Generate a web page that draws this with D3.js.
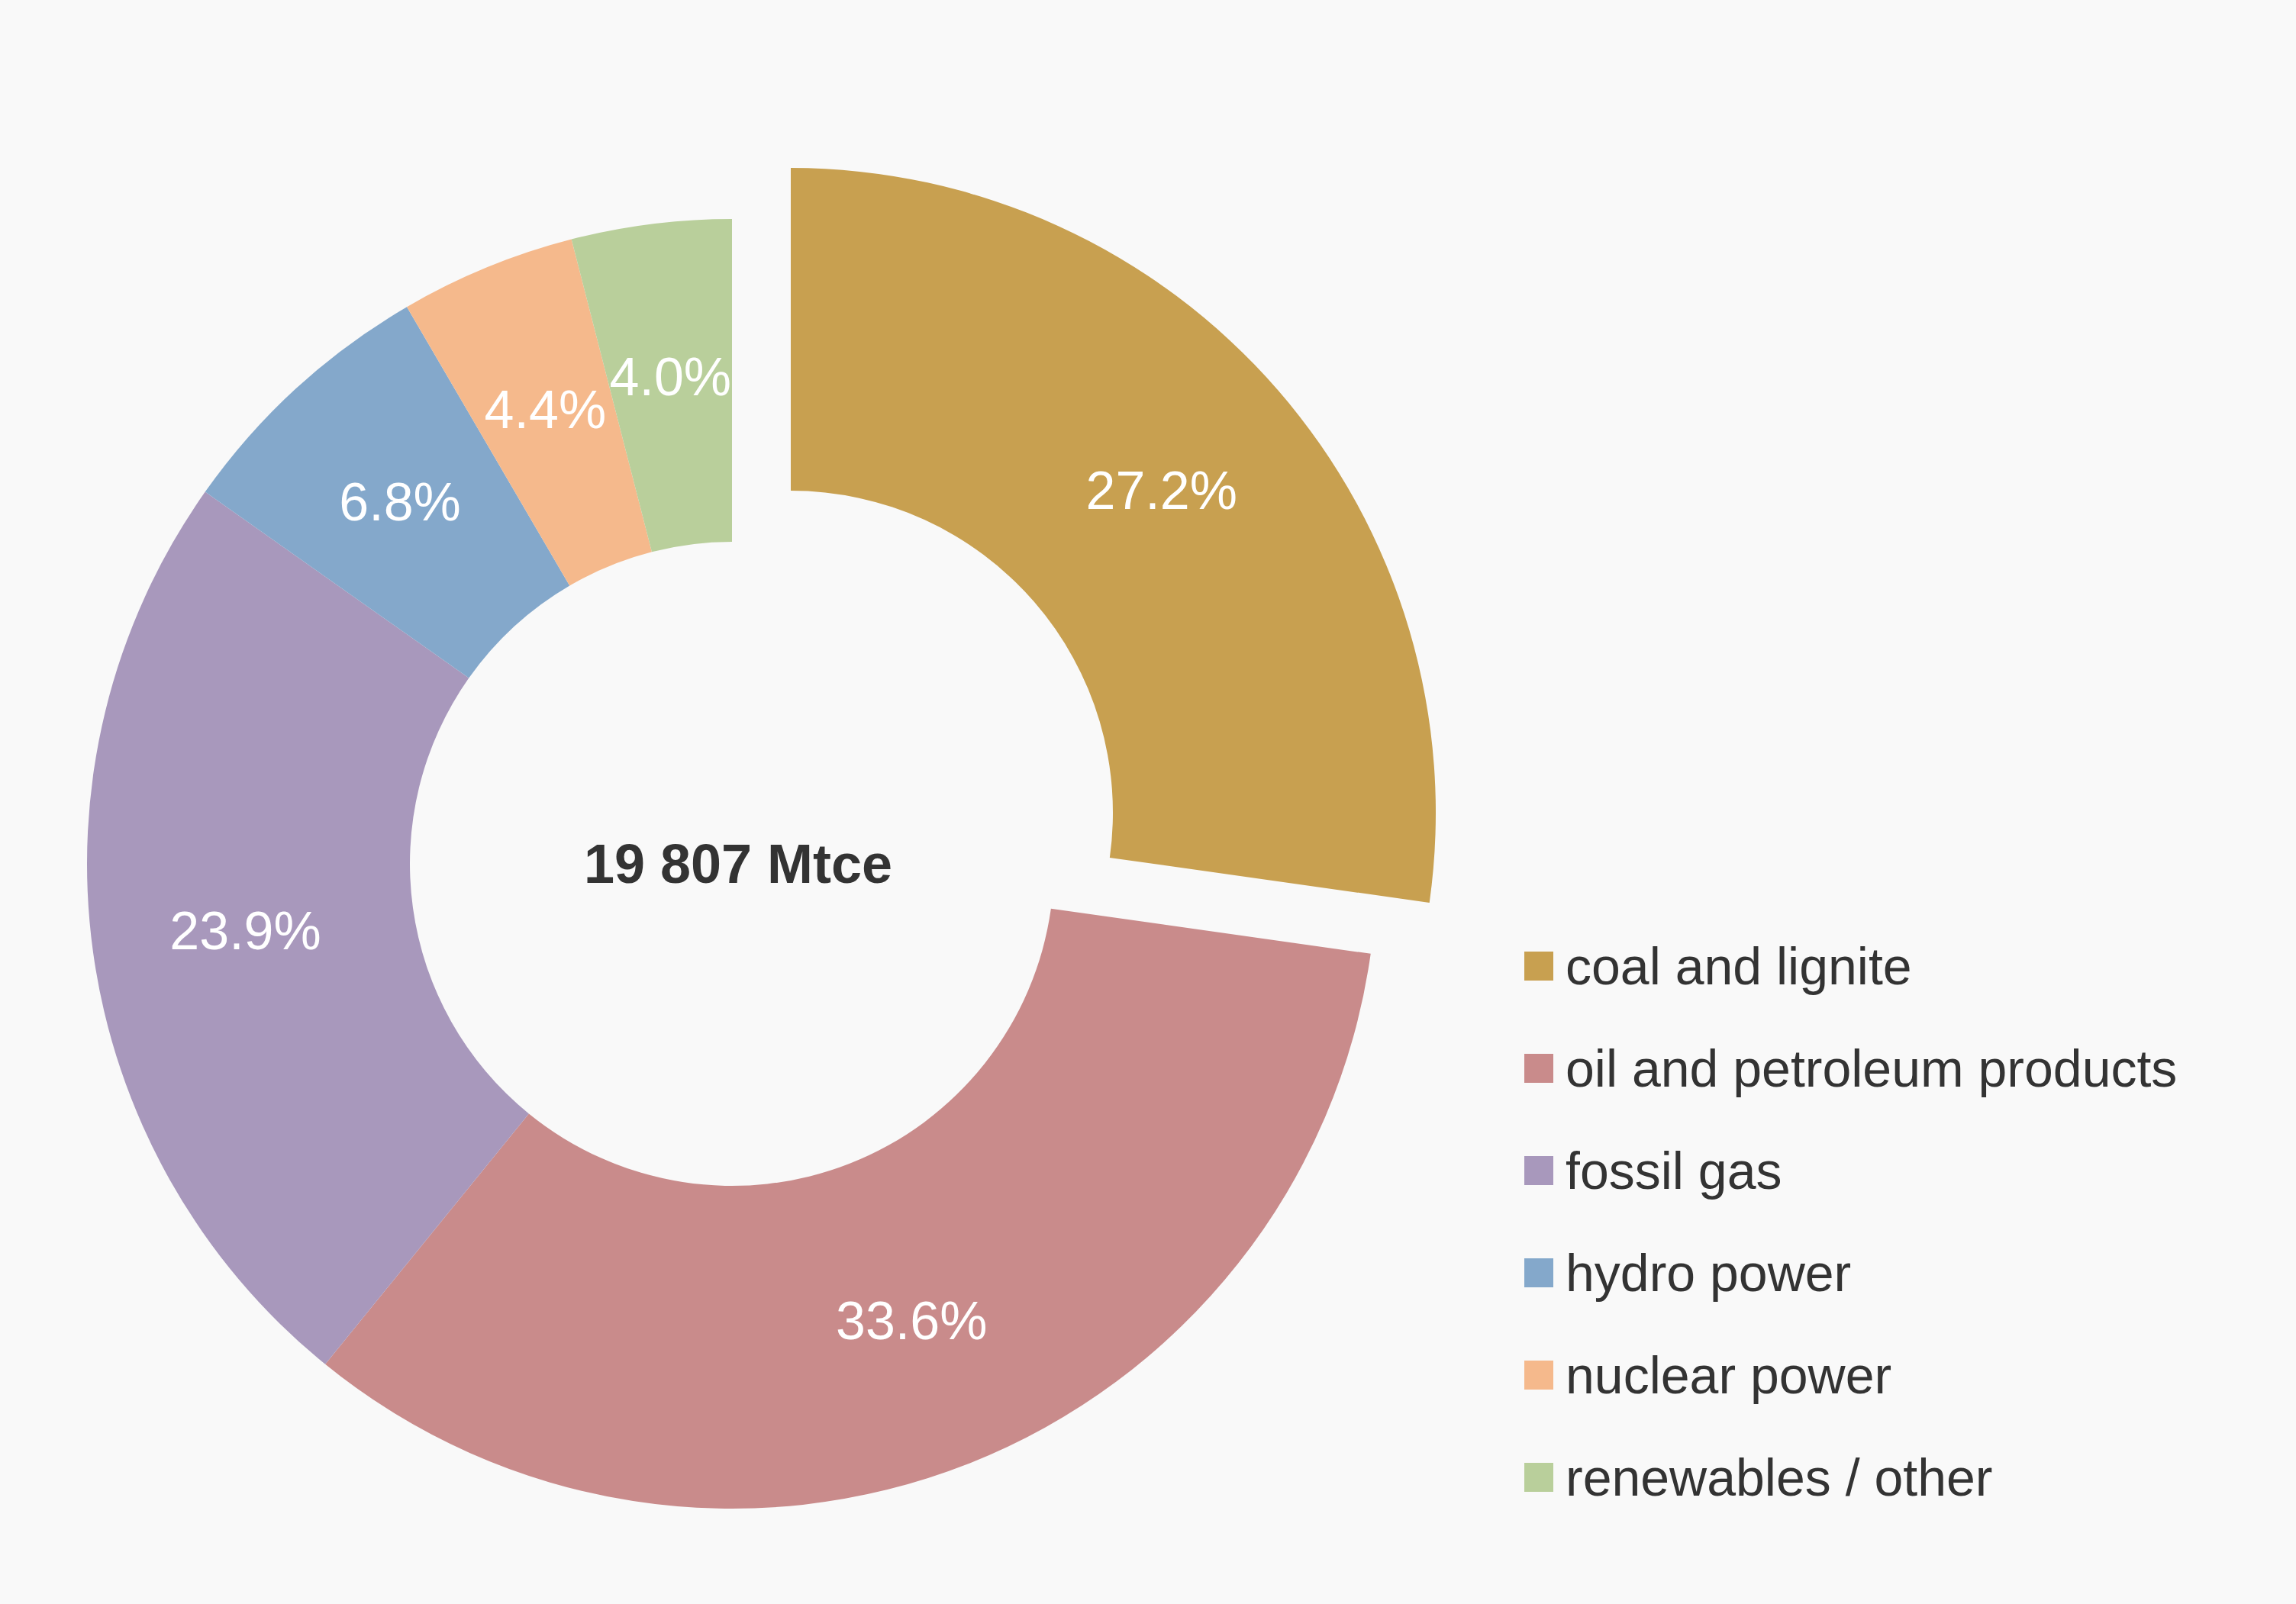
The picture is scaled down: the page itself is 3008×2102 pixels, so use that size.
<!DOCTYPE html>
<html><head><meta charset="utf-8">
<script src="https://cdn.jsdelivr.net/npm/d3@7"></script>
<style>body{margin:0;background:#f9f9f9}</style>
</head><body>
<script>
const categories = ['coal and lignite', 'oil and petroleum products', 'fossil gas', 'hydro power', 'nuclear power', 'renewables / other'];
const shares = [27.2, 33.6, 23.9, 6.8, 4.4, 4.0];
const colors = ['#c8a050', '#c98b8b', '#a898bc', '#84a8cb', '#f5b98c', '#b9cf9b'];
const total = '19 807 Mtce';

const W = 3008, H = 2102;
const cx = 959, cy = 1132, R = 845, r0 = 422, explode = 102;
const font = 'Liberation Sans, Arial, sans-serif';

const svg = d3.select('body').append('svg').attr('width', W).attr('height', H);
svg.append('rect').attr('width', W).attr('height', H).attr('fill', '#f9f9f9');

const pie = d3.pie().sort(null).value(d => d);
const arcs = pie(shares);
const arc = d3.arc().innerRadius(r0).outerRadius(R);
const g = svg.append('g').attr('transform', `translate(${cx},${cy})`);

arcs.forEach((a, i) => {
  const mid = (a.startAngle + a.endAngle) / 2;
  const off = i === 0 ? explode : 0;
  const gg = g.append('g').attr('transform', `translate(${Math.sin(mid) * off},${-Math.cos(mid) * off})`);
  gg.append('path').attr('d', arc(a)).attr('fill', colors[i]);
  const lr = (R + r0) / 2 + 10;
  gg.append('text')
    .attr('x', Math.sin(mid) * lr).attr('y', -Math.cos(mid) * lr)
    .attr('text-anchor', 'middle').attr('dominant-baseline', 'central')
    .attr('font-family', font).attr('font-size', 70).attr('fill', '#fff')
    .text(shares[i].toFixed(1) + '%');
});

g.append('text').attr('text-anchor', 'middle').attr('dominant-baseline', 'central')
  .attr('x', 8).attr('font-family', font).attr('font-size', 72).attr('font-weight', 'bold')
  .attr('fill', '#333').text(total);

const leg = svg.append('g').attr('transform', 'translate(1997,1266)');
categories.forEach((c, i) => {
  const row = leg.append('g').attr('transform', `translate(0,${i * 134})`);
  row.append('rect').attr('x', 0).attr('y', -19).attr('width', 38).attr('height', 38).attr('fill', colors[i]);
  row.append('text').attr('x', 54).attr('y', 0).attr('dominant-baseline', 'central')
    .attr('font-family', font).attr('font-size', 68).attr('fill', '#333').text(c);
});
</script>
</body></html>
